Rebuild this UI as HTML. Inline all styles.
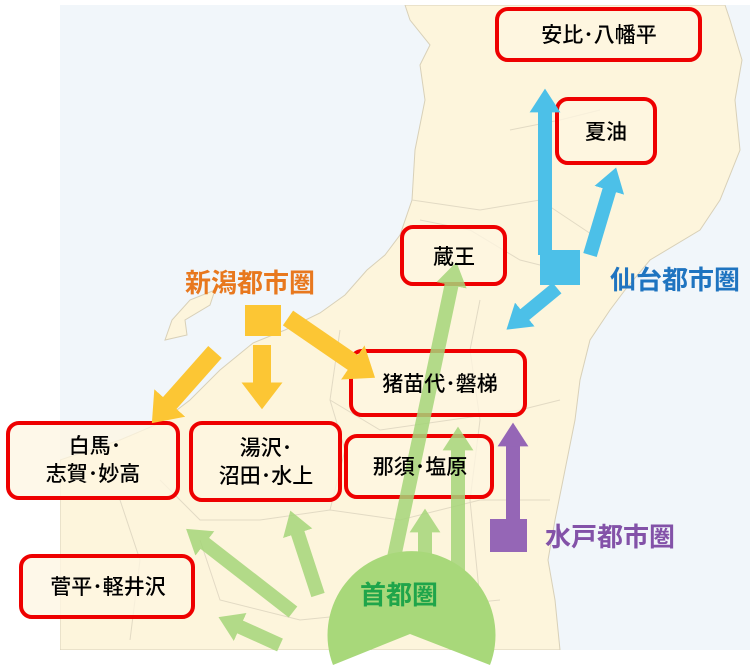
<!DOCTYPE html>
<html><head><meta charset="utf-8"><style>
body{margin:0;background:#fff;}
svg{display:block}
text{font-family:"Liberation Sans","Noto Sans CJK JP",sans-serif;}
</style></head><body>
<svg width="750" height="670" viewBox="0 0 750 670" xmlns="http://www.w3.org/2000/svg">
<defs>
<marker id="mb" viewBox="0 0 10 10" refX="1" refY="5" markerWidth="1.7" markerHeight="2.2" orient="auto" preserveAspectRatio="none"><path d="M0,0 L10,5 L0,10 Z" fill="#4cc0e8"/></marker>
<marker id="mo" viewBox="0 0 10 10" refX="1" refY="5" markerWidth="1.5" markerHeight="2.3" orient="auto" preserveAspectRatio="none"><path d="M0,0 L10,5 L0,10 Z" fill="#fcc634"/></marker>
<marker id="mp" viewBox="0 0 10 10" refX="1" refY="5" markerWidth="1.7" markerHeight="2.2" orient="auto" preserveAspectRatio="none"><path d="M0,0 L10,5 L0,10 Z" fill="#9566b6"/></marker>
<marker id="mg" viewBox="0 0 10 10" refX="1" refY="5" markerWidth="1.7" markerHeight="2.2" orient="auto" preserveAspectRatio="none"><path d="M0,0 L10,5 L0,10 Z" fill="#a6d67a"/></marker>
<clipPath id="mapc"><rect x="60" y="5" width="690" height="645"/></clipPath>
</defs>
<g clip-path="url(#mapc)">
<rect x="60" y="5" width="690" height="645" fill="#f1f6fa"/>
<path d="M405,5 L410,20 L430,45 L420,65 L425,100 L415,150 L412,200 L400,235 L385,255 L367,270 L345,295 L320,313 L285,330 L253,343 L220,370 L190,400 L160,423 L120,440 L60,460 L60,650 L560,650 L555,600 L548,560 L555,520 L565,470 L575,420 L580,380 L590,340 L610,310 L625,290 L650,260 L700,230 L720,200 L740,150 L735,100 L742,60 L730,20 L725,5 Z" fill="#fdf5dc" stroke="#d8d0b8" stroke-width="1"/>
<path d="M190,300 L215,290 L210,305 L185,320 L187,335 L165,340 L172,320 Z" fill="#fdf5dc" stroke="#d8d0b8" stroke-width="1"/>
<g fill="none" stroke="#e2dac4" stroke-width="1">
<path d="M420,220 L470,230 L520,260 L560,270"/><path d="M412,200 L480,210 L540,200 L600,240"/>
<path d="M510,130 L560,120 L600,110"/><path d="M330,400 L380,430 L450,420 L520,410 L560,400"/>
<path d="M160,480 L200,520 L260,520 L330,510 L400,520 L480,500 L550,500"/>
<path d="M200,540 L220,600 L300,620 L400,610 L500,600"/><path d="M480,300 L470,350 L480,420 L470,500 L480,600"/>
<path d="M340,330 L330,400 L345,450 L330,510"/><path d="M120,500 L140,560 L130,640"/>
</g>
</g>
<g fill="#fdf6e2" fill-opacity="0.75" stroke="#ee0000" stroke-width="4">
<rect x="497" y="9" width="203" height="51" rx="11"/>
<rect x="557" y="99" width="98" height="64" rx="11"/>
<rect x="402" y="227" width="103" height="57" rx="11"/>
<rect x="351" y="351" width="174" height="64" rx="11"/>
<rect x="8" y="423" width="170" height="75" rx="11"/>
<rect x="191" y="423" width="149" height="77" rx="11"/>
<rect x="346" y="436" width="146" height="61" rx="11"/>
<rect x="21" y="556" width="172" height="61" rx="11"/>
</g>
<g stroke-linecap="butt">
<line x1="545" y1="255" x2="545" y2="110" stroke="#4cc0e8" stroke-width="14" marker-end="url(#mb)"/>
<line x1="590" y1="255" x2="610" y2="188" stroke="#4cc0e8" stroke-width="14" marker-end="url(#mb)"/>
<line x1="557" y1="288" x2="523" y2="316" stroke="#4cc0e8" stroke-width="14" marker-end="url(#mb)"/>
<line x1="288" y1="318" x2="355" y2="364" stroke="#fcc634" stroke-width="18" marker-end="url(#mo)"/>
<line x1="262" y1="345" x2="262" y2="385" stroke="#fcc634" stroke-width="18" marker-end="url(#mo)"/>
<line x1="215" y1="352" x2="168" y2="405" stroke="#fcc634" stroke-width="18" marker-end="url(#mo)"/>
<line x1="513" y1="520" x2="513" y2="444" stroke="#9566b6" stroke-width="14" marker-end="url(#mp)"/>
<g opacity="0.85">
<line x1="385" y1="600" x2="452" y2="283" stroke="#a6d67a" stroke-width="14" marker-end="url(#mg)"/>
<line x1="425" y1="590" x2="425" y2="530" stroke="#a6d67a" stroke-width="14" marker-end="url(#mg)"/>
<line x1="458" y1="600" x2="458" y2="448" stroke="#a6d67a" stroke-width="14" marker-end="url(#mg)"/>
<line x1="318" y1="595" x2="297" y2="531" stroke="#a6d67a" stroke-width="14" marker-end="url(#mg)"/>
<line x1="293" y1="612" x2="203" y2="542" stroke="#a6d67a" stroke-width="14" marker-end="url(#mg)"/>
<line x1="280" y1="645" x2="238" y2="626" stroke="#a6d67a" stroke-width="14" marker-end="url(#mg)"/>
</g>
</g>
<path d="M333,665 L410,634 L490,665 A84,84 0 1 0 333,665 Z" fill="#a8d87a"/>
<rect x="245" y="305" width="36" height="31" fill="#fcc634"/>
<rect x="540" y="250" width="40" height="35" fill="#4cc0e8"/>
<rect x="490" y="519" width="37" height="33" fill="#9566b6"/>
<g font-size="21" fill="#000" text-anchor="middle" font-weight="500">
<text x="599" y="42">安比･八幡平</text>
<text x="606" y="139">夏油</text>
<text x="454" y="264">蔵王</text>
<text x="440" y="391">猪苗代･磐梯</text>
<text x="95" y="453">白馬･</text>
<text x="93" y="481">志賀･妙高</text>
<text x="266" y="455">湯沢･</text>
<text x="266" y="483">沼田･水上</text>
<text x="420" y="474">那須･塩原</text>
<text x="108" y="594">菅平･軽井沢</text>
</g>
<g font-size="26" font-weight="bold">
<text x="185" y="292" fill="#e8781e">新潟都市圏</text>
<text x="610" y="289" fill="#1f74c0">仙台都市圏</text>
<text x="545" y="546" fill="#8352a8">水戸都市圏</text>
<text x="360" y="604" fill="#1fa54a">首都圏</text>
</g>
</svg>
</body></html>
